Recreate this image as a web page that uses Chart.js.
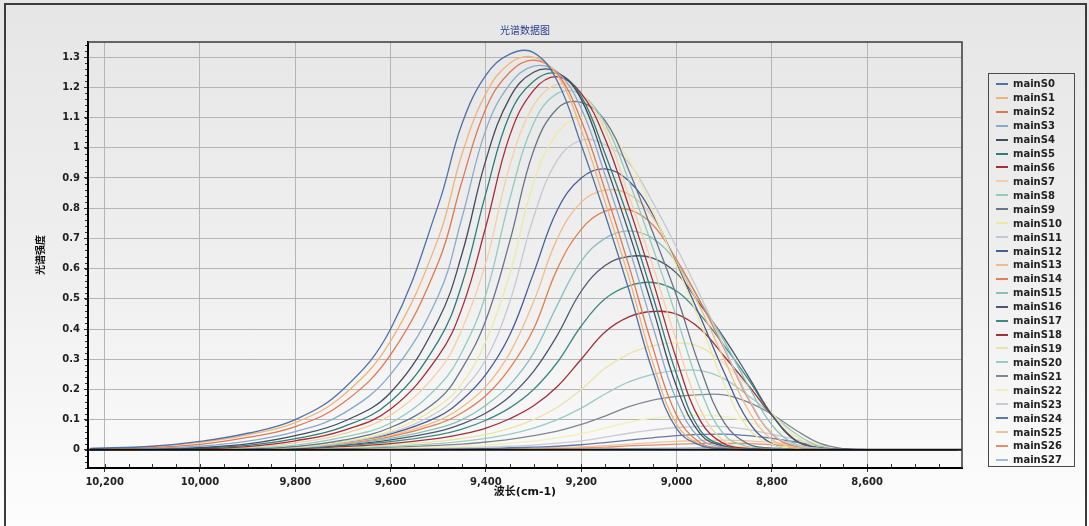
<!DOCTYPE html>
<html>
<head>
<meta charset="utf-8">
<script src="https://cdn.jsdelivr.net/npm/chart.js@4.4.1/dist/chart.umd.min.js"></script>
<style>
  html, body { margin: 0; padding: 0; }
  body {
    width: 1089px; height: 526px; overflow: hidden; position: relative;
    background: linear-gradient(to bottom, #e6e6e6 0%, #f0f0f0 55%, #fdfdfd 100%);
  }
  #frame { position: absolute; left: 4px; top: 3px; width: 1079px; height: 530px; border: 2px solid #3c3c3c; border-bottom: none; }
  #chart { position: absolute; left: 0; top: 0; }
  #legend {
    position: absolute; left: 988px; top: 73px; width: 87px; height: 394px;
    border: 1px solid #4a4a4a; box-sizing: border-box; padding-top: 3px;
  }
  .item { height: 13.93px; display: flex; align-items: center; font: bold 10px "DejaVu Sans", sans-serif; color: #222; white-space: nowrap; }
  .swatch { display: inline-block; width: 12px; height: 2px; margin-left: 7px; margin-right: 5px; }
</style>
</head>
<body>
<div id="frame"></div>
<canvas id="chart" width="1089" height="526"></canvas>
<div id="legend"></div>
<script>
// wavenumber grid (cm-1), shared by all series
const WAVENUMBER = [10230, 10100, 10000, 9900, 9800, 9700, 9600, 9500, 9450, 9400, 9350, 9300, 9250, 9200,
  9150, 9100, 9050, 9000, 8950, 8900, 8850, 8800, 8750, 8700, 8650, 8600, 8500, 8410];

const S0 = [0.005,0.012,0.028,0.055,0.10,0.20,0.40,0.81,1.08,1.24,1.31,1.315,1.22,1.01,0.78,0.53,0.26,0.07,0.015,0.004,0,0,0,0,0,0,0,0];
const S1 = [0.004,0.011,0.025,0.050,0.090,0.18,0.36,0.70,0.98,1.18,1.28,1.30,1.24,1.06,0.82,0.57,0.29,0.085,0.017,0.004,0,0,0,0,0,0,0,0];
const S2 = [0.003,0.008,0.018,0.041,0.077,0.155,0.315,0.62,0.89,1.13,1.25,1.29,1.245,1.09,0.86,0.61,0.34,0.115,0.023,0.006,0.001,0,0,0,0,0,0,0];
const S3 = [0.002,0.005,0.012,0.029,0.060,0.12,0.25,0.51,0.77,1.06,1.21,1.27,1.25,1.13,0.91,0.67,0.41,0.164,0.036,0.009,0.002,0,0,0,0,0,0,0];
const S4 = [0.001,0.003,0.008,0.020,0.047,0.093,0.19,0.43,0.65,0.96,1.165,1.25,1.25,1.16,0.95,0.72,0.47,0.21,0.052,0.011,0.003,0,0,0,0,0,0,0];
const S5 = [0.001,0.002,0.006,0.015,0.037,0.076,0.16,0.36,0.55,0.85,1.11,1.22,1.245,1.17,0.98,0.76,0.51,0.25,0.064,0.013,0.003,0,0,0,0,0,0,0];
const S6 = [0,0.002,0.004,0.011,0.030,0.064,0.135,0.31,0.47,0.74,1.04,1.19,1.235,1.18,1.03,0.805,0.56,0.30,0.096,0.02,0.005,0.001,0,0,0,0,0,0];
const S7 = [0,0.001,0.003,0.008,0.023,0.053,0.115,0.26,0.40,0.62,0.94,1.14,1.21,1.18,1.06,0.84,0.61,0.36,0.134,0.028,0.007,0.001,0,0,0,0,0,0];
const S8 = [0,0.001,0.002,0.006,0.016,0.042,0.089,0.21,0.325,0.515,0.83,1.08,1.18,1.175,1.08,0.89,0.67,0.44,0.20,0.05,0.011,0.003,0,0,0,0,0,0];
const S9 = [0,0,0.001,0.004,0.011,0.032,0.074,0.166,0.27,0.43,0.69,0.99,1.13,1.15,1.09,0.925,0.72,0.51,0.27,0.09,0.02,0.005,0.001,0,0,0,0,0];
const S10 = [0,0,0.001,0.003,0.009,0.027,0.063,0.144,0.22,0.36,0.58,0.885,1.05,1.10,1.065,0.96,0.79,0.61,0.42,0.217,0.072,0.018,0.005,0.001,0,0,0,0];
const S11 = [0,0,0.001,0.003,0.008,0.025,0.057,0.126,0.196,0.30,0.49,0.77,0.96,1.025,1.01,0.95,0.82,0.67,0.51,0.34,0.175,0.055,0.016,0.005,0.001,0,0,0];
const S12 = [0,0,0.002,0.004,0.010,0.026,0.053,0.11,0.166,0.25,0.38,0.585,0.795,0.90,0.93,0.89,0.78,0.615,0.44,0.256,0.096,0.02,0.005,0.001,0,0,0,0];
const S13 = [0,0,0.001,0.003,0.009,0.023,0.048,0.097,0.142,0.21,0.32,0.49,0.70,0.82,0.86,0.846,0.77,0.62,0.47,0.30,0.133,0.034,0.008,0.002,0,0,0,0];
const S14 = [0,0,0.001,0.004,0.009,0.022,0.044,0.086,0.123,0.18,0.27,0.40,0.60,0.73,0.79,0.795,0.745,0.63,0.49,0.335,0.17,0.052,0.011,0.003,0,0,0,0];
const S15 = [0,0,0.001,0.003,0.007,0.019,0.038,0.072,0.10,0.148,0.215,0.32,0.48,0.625,0.70,0.725,0.70,0.62,0.49,0.36,0.214,0.083,0.018,0.005,0.001,0,0,0];
const S16 = [0,0,0.001,0.003,0.007,0.016,0.033,0.061,0.086,0.122,0.177,0.26,0.38,0.525,0.61,0.64,0.635,0.585,0.48,0.37,0.245,0.116,0.03,0.007,0.002,0,0,0];
const S17 = [0,0,0.001,0.003,0.006,0.014,0.027,0.05,0.069,0.098,0.139,0.20,0.29,0.41,0.50,0.543,0.554,0.526,0.447,0.345,0.235,0.116,0.031,0.006,0.001,0,0,0];
const S18 = [0,0,0.001,0.002,0.004,0.011,0.021,0.038,0.052,0.072,0.103,0.146,0.21,0.30,0.39,0.44,0.458,0.449,0.40,0.31,0.215,0.114,0.032,0.006,0.001,0,0,0];
const S19 = [0,0,0.001,0.002,0.004,0.008,0.016,0.028,0.038,0.051,0.071,0.10,0.141,0.20,0.27,0.318,0.344,0.354,0.340,0.285,0.21,0.122,0.044,0.008,0.001,0,0,0];
const S20 = [0,0,0.001,0.002,0.003,0.007,0.012,0.021,0.028,0.038,0.052,0.072,0.10,0.138,0.185,0.225,0.25,0.262,0.262,0.235,0.18,0.118,0.054,0.012,0.002,0,0,0];
const S21 = [0,0,0.001,0.001,0.002,0.005,0.009,0.015,0.019,0.026,0.035,0.047,0.062,0.084,0.112,0.143,0.165,0.177,0.183,0.182,0.158,0.118,0.066,0.022,0.004,0.001,0,0];
const S22 = [0,0,0,0.001,0.002,0.003,0.006,0.01,0.012,0.016,0.022,0.029,0.04,0.053,0.072,0.092,0.105,0.112,0.115,0.11,0.093,0.069,0.044,0.018,0.003,0.001,0,0];
const S23 = [0,0,0,0.001,0.001,0.002,0.004,0.006,0.007,0.009,0.012,0.016,0.022,0.03,0.042,0.055,0.066,0.074,0.078,0.077,0.067,0.052,0.034,0.015,0.003,0.001,0,0];
const S24 = [0,0,0,0,0.001,0.001,0.002,0.003,0.004,0.005,0.007,0.009,0.012,0.017,0.024,0.032,0.040,0.047,0.051,0.052,0.047,0.038,0.026,0.012,0.003,0.001,0,0];
const S25 = [0,0,0,0,0,0.001,0.001,0.002,0.002,0.003,0.004,0.005,0.007,0.01,0.014,0.019,0.024,0.028,0.031,0.032,0.03,0.025,0.017,0.008,0.002,0,0,0];
const S26 = [0,0,0,0,0,0,0.001,0.001,0.001,0.002,0.003,0.003,0.005,0.007,0.009,0.013,0.016,0.019,0.021,0.022,0.021,0.017,0.012,0.006,0.002,0,0,0];
const S27 = [0,0,0,0,0,0,0,0,0.001,0.001,0.001,0.001,0.002,0.002,0.003,0.004,0.005,0.006,0.007,0.008,0.008,0.007,0.005,0.003,0.001,0,0,0];

const SERIES = [S0, S1, S2, S3, S4, S5, S6, S7, S8, S9, S10, S11, S12, S13, S14, S15, S16, S17, S18, S19,
  S20, S21, S22, S23, S24, S25, S26, S27];
const SERIES_NAMES = SERIES.map((_, i) => 'mainS' + i);
const COLORS = ['#5070a8', '#f0b478', '#e07850', '#88aacc', '#404c60', '#2e7d78', '#a82c34', '#f4d0a0',
  '#90ccbc', '#6a7488', '#eceaa0', '#c4c8d0', '#485c98', '#f0bc88', '#e08050', '#88c0bc',
  '#4c5670', '#3c8a80', '#a03038', '#ece4a4', '#98ccc4', '#80868e', '#f0f0b8', '#c8cad4',
  '#6478a8', '#f0c498', '#e0906c', '#a4bcd8'];

// axis ticks
const X_TICKS = [10200, 10000, 9800, 9600, 9400, 9200, 9000, 8800, 8600];
const Y_TICKS = [0, 0.1, 0.2, 0.3, 0.4, 0.5, 0.6, 0.7, 0.8, 0.9, 1, 1.1, 1.2, 1.3];
const X_MIN = 8401, X_MAX = 10235;
const Y_MIN = -0.06, Y_MAX = 1.35;

const tickFont = { family: 'DejaVu Sans', size: 10, weight: 'bold' };

// zero line, top/right frame and minor ticks
const plotFrame = {
  id: 'plotFrame',
  afterDatasetsDraw(chart) {
    const { ctx, chartArea: a, scales: { x, y } } = chart;
    ctx.save();
    const y0 = y.getPixelForValue(0);
    ctx.strokeStyle = '#111';
    ctx.lineWidth = 2;
    ctx.beginPath();
    ctx.moveTo(a.left, y0);
    ctx.lineTo(a.right, y0);
    ctx.stroke();

    ctx.strokeStyle = '#3a3a3a';
    ctx.lineWidth = 1.5;
    ctx.beginPath();
    ctx.moveTo(a.left, a.top);
    ctx.lineTo(a.right, a.top);
    ctx.lineTo(a.right, a.bottom);
    ctx.stroke();

    ctx.strokeStyle = '#333';
    ctx.lineWidth = 1;
    ctx.beginPath();
    for (let i = -3; i <= 67; i++) {
      const py = Math.round(y.getPixelForValue(i * 0.02)) + 0.5;
      ctx.moveTo(a.left - 3, py);
      ctx.lineTo(a.left - 1, py);
    }
    for (let w = 8450; w <= 10200; w += 50) {
      const px = Math.round(x.getPixelForValue(w)) + 0.5;
      ctx.moveTo(px, a.bottom - 1);
      ctx.lineTo(px, a.bottom - 4);
    }
    ctx.stroke();
    ctx.restore();
  }
};

const htmlLegend = {
  id: 'htmlLegend',
  afterUpdate(chart) {
    const box = document.getElementById('legend');
    box.innerHTML = '';
    chart.data.datasets.forEach(ds => {
      const row = document.createElement('div');
      row.className = 'item';
      const sw = document.createElement('span');
      sw.className = 'swatch';
      sw.style.background = ds.borderColor;
      const tx = document.createElement('span');
      tx.textContent = ds.label;
      row.append(sw, tx);
      box.appendChild(row);
    });
  }
};

new Chart(document.getElementById('chart'), {
  type: 'line',
  data: {
    datasets: SERIES.map((vals, i) => ({
      label: SERIES_NAMES[i],
      data: vals.map((v, j) => ({ x: WAVENUMBER[j], y: v })),
      borderColor: COLORS[i],
      backgroundColor: COLORS[i],
      borderWidth: 1.3,
      pointRadius: 0,
      tension: 0.4,
      fill: false
    }))
  },
  options: {
    responsive: false,
    animation: false,
    layout: { padding: { left: 30, top: 18, right: 127, bottom: 27 } },
    plugins: {
      legend: { display: false },
      tooltip: { enabled: false },
      title: {
        display: true,
        text: '光谱数据图',
        color: '#2b3d8f',
        fullSize: false,
        font: { family: '"Noto Sans CJK SC"', size: 10, weight: 'normal' },
        padding: { top: 6, bottom: 6 }
      }
    },
    scales: {
      x: {
        type: 'linear',
        reverse: true,
        min: X_MIN,
        max: X_MAX,
        afterBuildTicks: s => { s.ticks = X_TICKS.map(v => ({ value: v })); },
        ticks: {
          autoSkip: false,
          maxRotation: 0,
          color: '#222',
          font: tickFont,
          padding: 4,
          callback: v => v.toLocaleString('en-US')
        },
        grid: { color: '#b5b5b5', lineWidth: 1, tickLength: 4, tickColor: '#333' },
        border: { color: '#000', width: 2 },
        title: {
          display: true,
          text: '波长(cm-1)',
          color: '#111',
          font: { family: '"DejaVu Sans", "Noto Sans CJK SC"', size: 11, weight: 'bold' },
          padding: { top: 0, bottom: 0 }
        },
        afterFit: s => { s.height = 31; }
      },
      y: {
        min: Y_MIN,
        max: Y_MAX,
        afterBuildTicks: s => { s.ticks = Y_TICKS.map(v => ({ value: v })); },
        ticks: {
          color: '#222',
          font: tickFont,
          padding: 4,
          callback: v => String(v)
        },
        grid: { color: '#b5b5b5', lineWidth: 1, tickLength: 4, tickColor: '#333' },
        border: { color: '#000', width: 2 },
        title: {
          display: true,
          text: '光谱强度',
          color: '#111',
          font: { family: '"Noto Sans CJK SC"', size: 10, weight: 'bold' },
          padding: { top: 4, bottom: 4 }
        },
        afterFit: s => { s.width = 58; }
      }
    }
  },
  plugins: [plotFrame, htmlLegend]
});
</script>
</body>
</html>
